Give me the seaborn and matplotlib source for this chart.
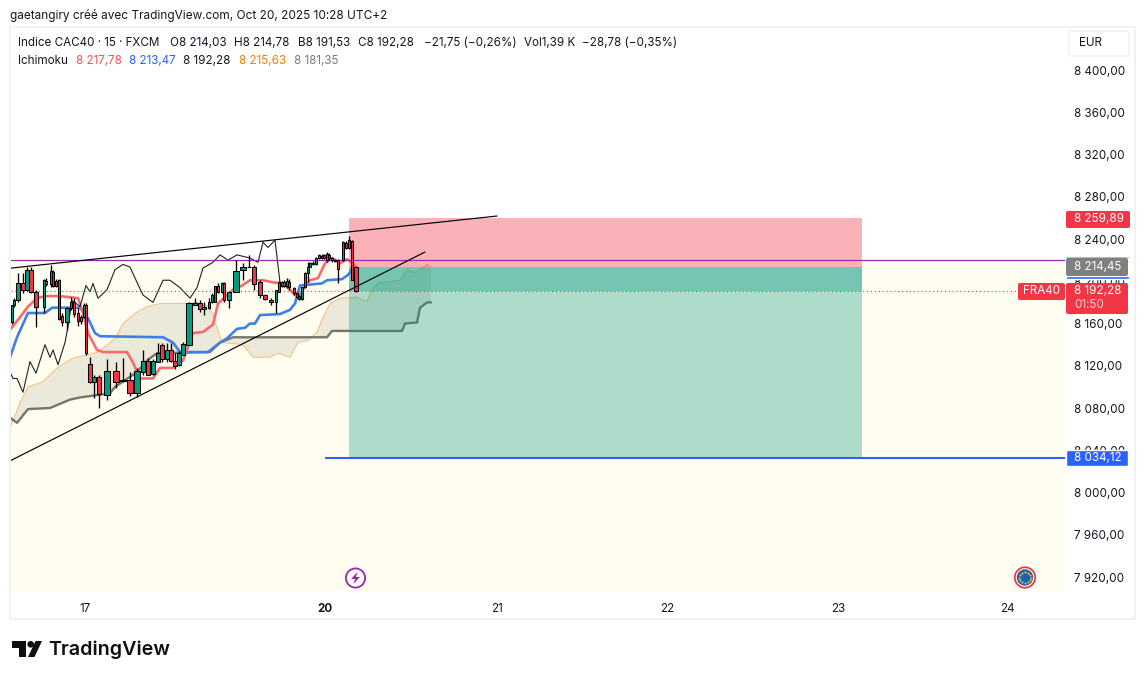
import numpy as np
import matplotlib
matplotlib.use('Agg')
import matplotlib.pyplot as plt
import seaborn as sns
from matplotlib.patches import Rectangle, FancyBboxPatch, Circle, Polygon

sns.set_theme(style='white')
plt.rcParams['font.family'] = ['Inter', 'DejaVu Sans']

# candles (time position on the chart, 15 min bars, prices in EUR)
bar_t = [12, 14, 18, 23, 27, 31, 36, 44, 46, 51, 53, 56, 59, 62, 67, 71, 74, 78, 81, 84, 86, 90, 94, 99, 107, 116, 123, 130, 137,
         143, 148, 153, 158, 162, 167, 171, 175, 179, 183, 189, 195, 200, 204, 209, 212, 215, 218, 222, 224, 229, 236, 243, 249,
         254, 260, 265, 271, 276, 279, 282, 284, 287, 289, 294, 297, 299, 302, 305, 308, 310, 313, 316, 319, 322, 324, 327, 329,
         332, 335, 338, 343, 346, 349, 352, 356]
bar_o = [8161, 8177.5, 8182, 8198, 8192, 8211, 8190, 8176, 8200, 8197, 8196, 8200, 8201, 8167, 8161, 8175, 8180, 8170, 8162, 8166,
         8177.5, 8122, 8105, 8109, 8092, 8115, 8105.5, 8107, 8094, 8114, 8124.5, 8112, 8124, 8140, 8126, 8135, 8125, 8121, 8130,
         8140, 8178, 8179, 8174, 8175, 8180, 8180, 8196, 8190, 8198, 8182, 8190, 8211, 8213.5, 8214, 8199, 8187, 8182, 8180, 8190,
         8199, 8196, 8200, 8199, 8193.5, 8189, 8186, 8183, 8194.5, 8208, 8214, 8216, 8216, 8222, 8222, 8225, 8220, 8225, 8222,
         8220, 8220, 8220, 8236, 8231.5, 8238, 8213.5]
bar_h = [8178, 8184, 8208, 8208, 8214, 8213.5, 8192, 8202, 8203, 8215, 8211, 8202, 8202, 8170, 8176, 8185, 8184, 8175, 8168, 8179,
         8179, 8128, 8111, 8111, 8126, 8124, 8127, 8114, 8118, 8135, 8127, 8126, 8142, 8142, 8142, 8142, 8132, 8134, 8142.5, 8180,
         8184, 8182, 8180, 8184, 8189, 8196, 8198, 8199, 8199, 8190, 8220, 8217, 8225, 8215, 8201, 8188, 8184, 8192, 8200, 8200,
         8201, 8203, 8202, 8194.5, 8190, 8187, 8194.5, 8209, 8218, 8218, 8219, 8223, 8226, 8226, 8226, 8228, 8227, 8223, 8221,
         8221, 8238, 8238, 8243, 8239, 8214.5]
bar_l = [8160, 8176, 8180, 8189, 8191, 8189, 8157, 8170, 8196, 8195, 8194.5, 8194.5, 8163, 8158, 8154, 8173, 8166, 8158, 8160, 8165,
         8130, 8104, 8089.5, 8080, 8088, 8099, 8105, 8091, 8090, 8111, 8111, 8111, 8124, 8124, 8124, 8124, 8117, 8120, 8130, 8140,
         8177.5, 8171, 8168, 8174, 8179, 8180, 8189, 8189, 8180, 8175, 8190, 8201, 8213.5, 8192, 8184, 8182, 8177.5, 8170, 8190,
         8194.5, 8195, 8193.5, 8192, 8187, 8184, 8182, 8182, 8193.5, 8199, 8213.5, 8215, 8215, 8221, 8221, 8221, 8218, 8220, 8218,
         8218, 8198, 8219, 8231, 8231, 8201, 8190]
bar_c = [8177.5, 8182, 8198, 8192, 8211, 8190, 8176, 8201, 8197, 8210, 8209, 8196, 8164, 8161, 8175, 8180, 8169, 8162, 8166, 8177.5,
         8132, 8105, 8109, 8093, 8115, 8105, 8107, 8094, 8115, 8124.5, 8111, 8124.5, 8132, 8126, 8135, 8125, 8120, 8132, 8141, 8179,
         8179, 8174, 8176, 8180, 8187, 8196, 8190, 8198, 8182, 8190, 8210, 8214, 8214, 8197, 8187, 8183, 8180, 8192, 8199, 8196,
         8199, 8196, 8194.5, 8189, 8185, 8183, 8194.5, 8208, 8214, 8217, 8217, 8222, 8225, 8224, 8222, 8226, 8222, 8220, 8219,
         8212, 8237, 8231.5, 8239, 8201, 8190.8]

# ichimoku lines
tenkan_t = [10, 20, 28, 37, 45, 58, 70, 78, 83, 88, 97, 103, 127, 133, 140, 153, 160, 173, 183, 188, 193, 203, 213, 218, 233, 242,
            250, 263, 273, 282, 288, 298, 305, 310, 318, 325, 332, 340, 347, 353, 355]
tenkan = [8154, 8166, 8176, 8184, 8186, 8186, 8185, 8184, 8170, 8151, 8135, 8133, 8133, 8123, 8108, 8108, 8118, 8118, 8125, 8138,
          8151, 8152, 8159, 8179, 8192, 8196, 8201, 8201, 8199, 8198, 8194, 8184, 8195, 8201, 8203, 8217, 8222, 8217, 8221, 8217, 8214]
kijun_t = [10, 17, 28, 45, 52, 80, 88, 95, 100, 163, 173, 180, 208, 220, 227, 237, 245, 250, 255, 260, 280, 290, 295, 300, 322, 327,
           342, 348, 353]
kijun = [8128, 8147, 8170, 8170, 8175, 8175, 8165, 8151, 8148, 8147, 8142, 8133, 8133, 8142, 8146, 8155, 8156, 8160, 8160, 8168,
         8169, 8173, 8179, 8196, 8198, 8201, 8202, 8206, 8212.5]
span_a_t = [10, 20, 28, 43, 57, 72, 85, 98, 110, 115, 123, 137, 147, 160, 187, 197, 210, 222, 243, 253, 270, 278, 290, 298, 308, 317,
            323, 330, 340, 357, 367, 373, 380, 400, 407, 415, 427, 431]
span_a = [8061, 8085, 8100, 8105, 8118, 8127, 8130, 8133, 8142, 8146, 8160, 8171, 8176, 8179, 8179, 8180, 8176, 8142, 8140, 8128,
          8128, 8132, 8128, 8142, 8144, 8152, 8166, 8179, 8184, 8185, 8181, 8194, 8199, 8201, 8211, 8208, 8216, 8213.5]
span_b_t = [10, 17, 28, 50, 70, 80, 110, 115, 137, 147, 157, 210, 220, 233, 327, 332, 402, 405, 417, 420, 427, 431]
span_b = [8071, 8066, 8079, 8080, 8088, 8090, 8094, 8100, 8114, 8125, 8132, 8133, 8142, 8147, 8147, 8153, 8153, 8160, 8161, 8175,
          8180, 8180]
chikou_t = [10, 13, 17, 23, 30, 36, 45, 50, 53, 58, 65, 68, 72, 80, 86, 90, 93, 98, 107, 115, 123, 130, 137, 143, 153, 163, 170, 180,
            190, 197, 203, 213, 218, 220, 228, 237, 250, 258, 263, 268, 275, 280]
chikou = [8114, 8108, 8108, 8095, 8124, 8113, 8140, 8128, 8135, 8121, 8142, 8157, 8182, 8176, 8196, 8190, 8198, 8184, 8192, 8211,
          8216, 8213.5, 8199, 8187, 8180, 8201, 8201, 8194, 8184, 8194, 8212.5, 8218, 8223, 8225, 8220, 8225, 8222, 8218, 8237,
          8232, 8239, 8199]

# trade levels and drawings
entry_price = 8213.5
stop_price = 8259.89
target_price = 8033
last_price = 8190.8
level_price = 8219.7
box_t = [349, 862]
target_line_t = [325, 1065]
trend_up_t = [11, 497]
trend_up = [8212.5, 8261.8]
trend_low_t = [10, 425]
trend_low = [8030, 8227.7]

y_ticks = [8400, 8360, 8320, 8280, 8240, 8200, 8160, 8120, 8080, 8040, 8000, 7960, 7920]
day_t = [85, 325, 497, 667, 838, 1007]
day_labels = ['17', '20', '21', '22', '23', '24']

GREEN = '#089981'
RED = '#f23645'
TEXT = '#131722'

fig = plt.figure(figsize=(11.45, 6.79), dpi=100, facecolor='white')
ax = fig.add_axes([11 / 1145, 1 - 591 / 679, 1054 / 1145, 563 / 679])
ax.set_facecolor('white')
ax.set_xlim(11, 1065)
ax.set_ylim(7906.8, 8439.8)

ax.axhspan(7906.8, level_price, color='#fffdf0', lw=0, zorder=0)

# cloud, then the ichimoku lines
ax.fill(list(span_a_t) + span_b_t[::-1], list(span_a) + span_b[::-1], color='#8c8a6a', alpha=0.17, lw=0, zorder=1)
sns.lineplot(x=span_a_t, y=span_a, color='#f7a24a', alpha=0.6, lw=0.8, estimator=None, sort=False, ax=ax, zorder=2)
sns.lineplot(x=span_b_t, y=span_b, color='#5f5f52', alpha=0.85, lw=1.7, estimator=None, sort=False, ax=ax, zorder=2)
sns.lineplot(x=kijun_t, y=kijun, color='#3f80e8', lw=1.9, estimator=None, sort=False, ax=ax, zorder=2)
sns.lineplot(x=tenkan_t, y=tenkan, color='#f76a70', lw=1.9, estimator=None, sort=False, ax=ax, zorder=2)
sns.lineplot(x=chikou_t, y=chikou, color='#222222', lw=0.8, estimator=None, sort=False, ax=ax, zorder=2)

# long/short position boxes, the stretch already in profit is darker
ax.add_patch(Rectangle((box_t[0], entry_price), box_t[1] - box_t[0], stop_price - entry_price,
                       facecolor=RED, alpha=0.38, lw=0, zorder=3))
ax.add_patch(Rectangle((box_t[0], target_price), box_t[1] - box_t[0], entry_price - target_price,
                       facecolor=GREEN, alpha=0.33, lw=0, zorder=3))
ax.add_patch(Rectangle((box_t[0], last_price), box_t[1] - box_t[0], entry_price - last_price,
                       facecolor=GREEN, alpha=0.33, lw=0, zorder=3))

ax.axhline(level_price, color='#9c27b0', lw=0.9, zorder=3.5)
ax.axhline(last_price, color=RED, lw=0.8, ls=(0, (1, 2.5)), zorder=3.5)

# candles, bodies get wider where the bars sit further apart
opens, highs, lows, closes = map(np.array, (bar_o, bar_h, bar_l, bar_c))
bar_colors = [GREEN if c >= o else RED for o, c in zip(opens, closes)]
gaps = np.diff(bar_t)
near = np.minimum(np.r_[gaps[0], gaps], np.r_[gaps, gaps[-1]])
body_w = np.clip(near - 0.8, 2.4, 6)
ax.vlines(bar_t, lows, highs, color='black', lw=0.95, zorder=4)
ax.bar(bar_t, np.abs(closes - opens), bottom=np.minimum(opens, closes), width=body_w,
       color=bar_colors, edgecolor='black', linewidth=0.75, zorder=4.5)

# drawings
sns.lineplot(x=trend_up_t, y=trend_up, color='black', lw=0.85, ax=ax, zorder=5)
sns.lineplot(x=trend_low_t, y=trend_low, color='black', lw=0.85, ax=ax, zorder=5)
ax.plot(target_line_t, [target_price, target_price], color='#2962ff', lw=1.5, zorder=5, solid_capstyle='butt')

# axes
for s in ax.spines.values():
    s.set_visible(False)
ax.yaxis.tick_right()
ax.set_yticks(y_ticks)
ax.set_yticklabels([f'{v // 1000} {v % 1000:03d},00' for v in y_ticks], fontsize=8.4, color=TEXT)
ax.tick_params(axis='y', length=0, pad=6.4)
ax.set_xticks(day_t)
ax.set_xticklabels(day_labels, fontsize=8.4, color=TEXT)
ax.tick_params(axis='x', length=0, pad=9)
ax.get_xticklabels()[1].set_fontweight('bold')
ax.set_xlabel('')
ax.set_ylabel('')

# overlay in pixels for the TradingView furniture
ov = fig.add_axes([0, 0, 1, 1], facecolor='none')
ov.set_xlim(0, 1145)
ov.set_ylim(679, 0)
ov.axis('off')

ov.add_patch(Rectangle((10, 27), 1125, 592, fill=False, edgecolor='#eff1f5', lw=1.4))

ov.text(10, 15.5, 'gaetangiry créé avec TradingView.com, Oct 20, 2025 10:28 UTC+2', fontsize=8.5, color=TEXT, va='center')

row1 = [(18, 'Indice CAC40 · 15 · FXCM'), (170, 'O8 214,03'), (234, 'H8 214,78'), (298, 'B8 191,53'), (358, 'C8 192,28'),
        (424, '−21,75 (−0,26%)'), (524, 'Vol1,39 K'), (582, '−28,78 (−0,35%)')]
for x, s in row1:
    ov.text(x, 43.5, s, fontsize=8.4, color=TEXT, va='center')
row2 = [(18, 'Ichimoku', TEXT), (76, '8 217,78', '#f7525f'), (129, '8 213,47', '#2962ff'), (183, '8 192,28', TEXT),
        (239, '8 215,63', '#f57c00'), (294, '8 181,35', '#787b86')]
for x, s, c in row2:
    ov.text(x, 60.5, s, fontsize=8.4, color=c, va='center')

ov.add_patch(FancyBboxPatch((1069, 31), 60, 25, boxstyle='round,pad=0,rounding_size=3',
                            facecolor='white', edgecolor='#f0f1f4', lw=1))
ov.text(1090, 43, 'EUR', fontsize=8.4, color=TEXT, ha='center', va='center')


def price_tag(x0, y0, x1, y1, color):
    ov.add_patch(FancyBboxPatch((x0, y0), x1 - x0, y1 - y0, boxstyle='round,pad=0,rounding_size=2',
                                facecolor=color, edgecolor='none', zorder=6))


# gray tag, with orange and blue lines peeking out
ov.add_patch(Rectangle((1066, 256), 63, 2, facecolor='#f57c00', zorder=5.5))
ov.add_patch(Rectangle((1066, 276), 63, 2.5, facecolor='#2962ff', zorder=5.5))
price_tag(1066, 258, 1128, 276, '#808080')
ov.text(1074, 267, '8 214,45', fontsize=8.4, color='white', va='center', zorder=7)

price_tag(1066, 211, 1130, 228, RED)
ov.text(1074, 219, '8 259,89', fontsize=8.4, color='white', va='center', zorder=7)

price_tag(1066, 283, 1128, 314, RED)
ov.text(1074, 291, '8 192,28', fontsize=8.4, color='white', va='center', zorder=7)
ov.text(1074, 305, '01:50', fontsize=8.4, color='#fcc8cd', va='center', zorder=7)

price_tag(1018, 283, 1065, 300, RED)
ov.text(1041.5, 291.5, 'FRA40', fontsize=8.4, color='white', ha='center', va='center', zorder=7)

ov.add_patch(Rectangle((1066, 465), 62, 2, facecolor=GREEN, zorder=5.5))
ov.add_patch(Rectangle((1066, 450), 62, 16, facecolor='#2962ff', zorder=6))
ov.text(1074, 458, '8 034,12', fontsize=8.4, color='white', va='center', zorder=7)

# event markers
ov.add_patch(Circle((355.5, 578), 9.6, facecolor='white', edgecolor='#9c27b0', lw=1.3, zorder=6))
ov.add_patch(Polygon([(357.5, 572), (351, 579), (355, 579), (353.5, 584), (360, 577), (356, 577)],
                     facecolor='#9c27b0', edgecolor='none', zorder=7))

ov.add_patch(Circle((1025, 577.5), 10.2, facecolor='white', edgecolor=RED, lw=1.3, zorder=6))
ov.add_patch(Circle((1025, 577.5), 8.2, facecolor='#1f5fb4', edgecolor='none', zorder=7))
star_angles = np.deg2rad(np.arange(0, 360, 30))
ov.scatter(1025 + 5.6 * np.cos(star_angles), 577.5 + 5.6 * np.sin(star_angles), s=2.2, color='#f5c518', lw=0, zorder=8)

# logo
ov.add_patch(Polygon([(12, 641), (26, 641), (26, 657), (19, 657), (19, 648), (12, 648)], facecolor='#0f0f0f', edgecolor='none'))
ov.add_patch(Circle((30.7, 644.3), 3.3, facecolor='#0f0f0f', edgecolor='none'))
ov.add_patch(Polygon([(28, 657), (35.5, 641), (42, 641), (34.5, 657)], facecolor='#0f0f0f', edgecolor='none'))
ov.text(48, 649.5, 'TradingView', fontsize=14.2, fontweight='semibold', color='#0f0f0f', va='center')

fig.savefig('out.png', dpi=100)
